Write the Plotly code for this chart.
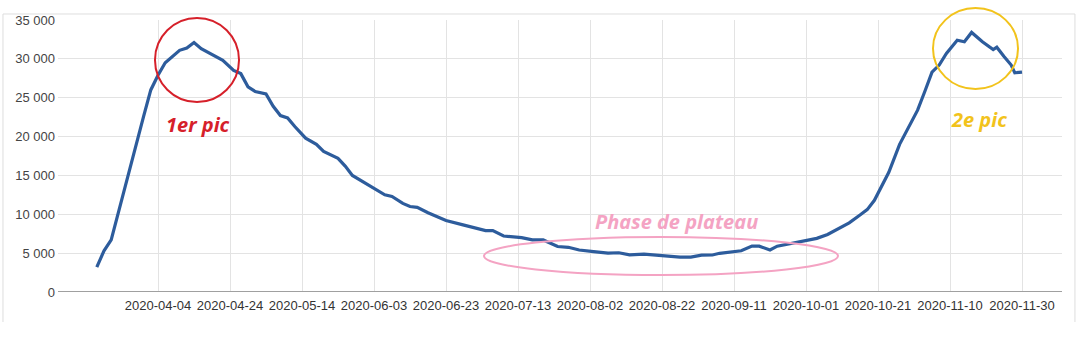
import plotly.graph_objects as go

dates = [
    "2020-03-18", "2020-03-20", "2020-03-22", "2020-03-23", "2020-03-25", "2020-03-27", "2020-03-29",
    "2020-03-31", "2020-04-02", "2020-04-04", "2020-04-06", "2020-04-08", "2020-04-10", "2020-04-12",
    "2020-04-14", "2020-04-16", "2020-04-19", "2020-04-22", "2020-04-25", "2020-04-27", "2020-04-29",
    "2020-05-01", "2020-05-04", "2020-05-06", "2020-05-08", "2020-05-10", "2020-05-12", "2020-05-15",
    "2020-05-18", "2020-05-20", "2020-05-24", "2020-05-26", "2020-05-28", "2020-05-31", "2020-06-04",
    "2020-06-06", "2020-06-08", "2020-06-11", "2020-06-13", "2020-06-15", "2020-06-18", "2020-06-20",
    "2020-06-23", "2020-06-28", "2020-07-04", "2020-07-06", "2020-07-09", "2020-07-14", "2020-07-17",
    "2020-07-20", "2020-07-24", "2020-07-27", "2020-07-30", "2020-08-03", "2020-08-07", "2020-08-10",
    "2020-08-13", "2020-08-17", "2020-08-21", "2020-08-27", "2020-08-30", "2020-09-02", "2020-09-05",
    "2020-09-07", "2020-09-13", "2020-09-16", "2020-09-18", "2020-09-21", "2020-09-23", "2020-09-27",
    "2020-10-01", "2020-10-04", "2020-10-07", "2020-10-10", "2020-10-13", "2020-10-16", "2020-10-18",
    "2020-10-20", "2020-10-22", "2020-10-24", "2020-10-27", "2020-10-30", "2020-11-01", "2020-11-03",
    "2020-11-05", "2020-11-07", "2020-11-09", "2020-11-12", "2020-11-14", "2020-11-16", "2020-11-19",
    "2020-11-22", "2020-11-23", "2020-11-25", "2020-11-27", "2020-11-28", "2020-11-30",
]
values = [
    3200, 5300, 6700, 8500, 11800, 15300, 19000,
    22600, 26000, 27900, 29500, 30300, 31100, 31400,
    32100, 31300, 30500, 29800, 28500, 28100, 26400,
    25800, 25500, 23900, 22700, 22400, 21300, 19800,
    19000, 18100, 17200, 16200, 15000, 14200, 13100,
    12500, 12300, 11400, 11000, 10900, 10200, 9800,
    9200, 8600, 7900, 7900, 7200, 7000, 6700,
    6700, 5850, 5750, 5400, 5200, 5000, 5050,
    4780, 4880, 4680, 4480, 4480, 4750, 4760,
    4980, 5300, 5900, 5900, 5400, 5900, 6270,
    6600, 6900, 7400, 8100, 8900, 9900, 10600,
    11800, 13500, 15400, 19000, 21700, 23400, 25800,
    28300, 29200, 30700, 32400, 32200, 33400, 32200,
    31200, 31500, 30300, 29200, 28200, 28300,
]

x_ticks = ["2020-04-04", "2020-04-24", "2020-05-14", "2020-06-03", "2020-06-23", "2020-07-13",
           "2020-08-02", "2020-08-22", "2020-09-11", "2020-10-01", "2020-10-21", "2020-11-10",
           "2020-11-30"]
y_ticks = [0, 5000, 10000, 15000, 20000, 25000, 30000, 35000]
y_tick_text = ["0", "5 000", "10 000", "15 000", "20 000", "25 000", "30 000", "35 000"]

annot_texts = ["1er pic", "2e pic", "Phase de plateau"]

fig = go.Figure()
fig.add_trace(go.Scatter(
    x=dates, y=values, mode="lines",
    line=dict(color="#2d5c9c", width=3.2),
    hoverinfo="x+y", showlegend=False,
))

fig.update_layout(
    width=1080, height=351,
    margin=dict(l=58, r=18, t=20, b=59),
    paper_bgcolor="white", plot_bgcolor="white",
    font=dict(family="Liberation Sans, Arial, sans-serif", size=13, color="#444444"),
    xaxis=dict(
        type="date",
        range=["2020-03-07 05:20", "2020-12-11 02:40"],
        tickvals=x_ticks, ticktext=x_ticks,
        showgrid=True, gridcolor="#e3e3e3", gridwidth=1,
        showline=False, zeroline=False, ticks="",
        tickfont=dict(size=13, color="#333333"),
        ticklabelstandoff=4,
    ),
    yaxis=dict(
        range=[0, 35000],
        tickvals=y_ticks, ticktext=y_tick_text,
        showgrid=True, gridcolor="#e3e3e3", gridwidth=1,
        zeroline=False, showline=False, ticks="",
        tickfont=dict(size=13, color="#444444"),
        ticklabelstandoff=2,
    ),
)

# x axis baseline
fig.add_shape(type="line", xref="paper", yref="y", x0=0, x1=1, y0=0, y1=0,
              line=dict(color="#a0a0a0", width=2), layer="above")

# outer frame (screenshot border)
frame_col = "#dedede"
fig.add_shape(type="line", xref="paper", yref="paper", x0=-0.0548, x1=1.0129, y0=1.0221, y1=1.0221,
              line=dict(color=frame_col, width=1))
fig.add_shape(type="line", xref="paper", yref="paper", x0=-0.0548, x1=-0.0548, y0=1.0221, y1=-0.1103,
              line=dict(color=frame_col, width=1))
fig.add_shape(type="line", xref="paper", yref="paper", x0=1.0129, x1=1.0129, y0=1.0221, y1=-0.1103,
              line=dict(color=frame_col, width=1))

# highlight circles
fig.add_shape(type="circle", xref="paper", yref="paper", x0=0.0966, x1=0.1803, y0=0.6985, y1=1.0074,
              line=dict(color="#d6202a", width=2))
fig.add_shape(type="circle", xref="paper", yref="paper", x0=0.8715, x1=0.9562, y0=0.7463, y1=1.0441,
              line=dict(color="#f2c31c", width=2))
fig.add_shape(type="circle", xref="paper", yref="paper", x0=0.4243, x1=0.7769, y0=0.0625, y1=0.2022,
              line=dict(color="#f4a3c3", width=2))

ann_font = "Open Sans, Lato, sans-serif"
for txt, xp, yp, col in [
    (annot_texts[0], 0.1394, 0.6176, "#d6202a"),
    (annot_texts[1], 0.9173, 0.6324, "#f2c31c"),
    (annot_texts[2], 0.6165, 0.261, "#f4a3c3"),
]:
    fig.add_annotation(xref="paper", yref="paper", x=xp, y=yp, xanchor="center", yanchor="middle",
                       text="<b><i>%s</i></b>" % txt, showarrow=False,
                       font=dict(family=ann_font, size=20, color=col))

fig.write_html("out.html")
